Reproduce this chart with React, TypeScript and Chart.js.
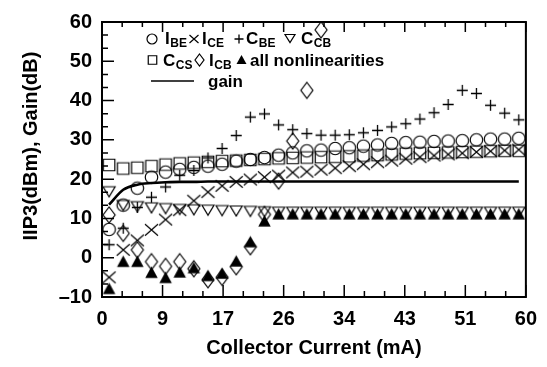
import React, { useEffect, useRef } from 'react';
import { Chart, registerables } from 'chart.js';

Chart.register(...registerables);

// Collector current (mA) at which every series was sampled
const current = [1, 3, 5, 7, 9, 11, 13, 15, 17, 19, 21, 23, 25, 27, 29, 31, 33, 35, 37, 39, 41, 43, 45, 47, 49, 51, 53, 55, 57, 59];

// IIP3 (dBm) for each nonlinearity
const iBE = [7.2, 13.4, 17.7, 20.5, 21.8, 22.5, 23.0, 23.3, 23.8, 24.6, 25.0, 25.5, 26.1, 26.7, 27.2, 27.4, 27.8, 28.0, 28.4, 28.7, 29.1, 29.3, 29.4, 29.6, 29.7, 29.8, 30.0, 30.2, 30.2, 30.4];
const iCE = [-5.0, 2.0, 4.4, 7.1, 9.7, 12.1, 14.5, 16.7, 18.3, 19.3, 19.9, 20.5, 20.9, 21.7, 21.9, 22.4, 22.8, 23.3, 23.8, 24.3, 24.7, 25.2, 25.6, 26.0, 26.3, 26.6, 26.9, 27.1, 27.3, 27.5];
const cBE = [3.3, 7.5, 12.8, 15.4, 18.0, 21.0, 22.2, 25.4, 27.8, 31.1, 35.8, 36.6, 33.8, 32.6, 31.6, 31.2, 31.2, 31.3, 31.8, 32.4, 33.3, 34.1, 35.3, 36.9, 39.0, 42.6, 41.8, 38.8, 36.8, 35.1];
const cCB = [16.8, 13.3, 13.0, 12.7, 12.5, 12.3, 12.2, 12.1, 12.0, 11.9, 11.8, 11.7, 11.6, 11.6, 11.6, 11.6, 11.6, 11.6, 11.6, 11.6, 11.6, 11.6, 11.6, 11.6, 11.6, 11.6, 11.6, 11.6, 11.6, 11.6];
const cCS = [23.6, 22.7, 22.9, 23.3, 23.7, 24.0, 24.2, 24.4, 24.6, 24.7, 24.9, 25.1, 25.3, 25.4, 25.5, 25.6, 25.7, 25.8, 26.0, 26.1, 26.3, 26.5, 26.6, 26.7, 26.8, 26.9, 27.0, 27.1, 27.2, 27.2];
const iCB = [10.9, 6.2, 2.0, -1.0, -2.2, -1.0, -2.8, -5.6, -5.0, -2.3, 2.8, 11.0, 19.5, 29.7, 42.6, 58.0];
const allNonlin = [-7.8, -0.9, -0.9, -3.7, -5.0, -3.6, -2.5, -4.5, -3.9, -0.8, 4.1, 9.4, 11.2, 11.2, 11.2, 11.2, 11.2, 11.2, 11.2, 11.2, 11.2, 11.2, 11.2, 11.2, 11.2, 11.2, 11.2, 11.2, 11.2, 11.2];
// Gain (dB)
const gain = [13.5, 17.3, 18.6, 19.0, 19.2, 19.3, 19.3, 19.4, 19.4, 19.4, 19.4, 19.4, 19.4, 19.4, 19.4, 19.4, 19.4, 19.4, 19.4, 19.4, 19.4, 19.4, 19.4, 19.4, 19.4, 19.4, 19.4, 19.4, 19.4, 19.4];

const xTickLabels = ['0', '9', '17', '26', '34', '43', '51', '60'];
const yTickValues = [-10, 0, 10, 20, 30, 40, 50, 60];
const yTickLabels = ['\u201310', '0', '10', '20', '30', '40', '50', '60'];

const FONT = '"Liberation Sans", Arial, Helvetica, sans-serif';

type Kind = 'circle' | 'cross' | 'plus' | 'tridown' | 'square' | 'diamond' | 'triup';

function drawMarker(ctx: CanvasRenderingContext2D, kind: Kind, cx: number, cy: number, w: number, h: number, lw: number) {
  ctx.save();
  ctx.strokeStyle = '#000';
  ctx.fillStyle = '#000';
  ctx.lineWidth = lw;
  const hw = w / 2, hh = h / 2;
  ctx.beginPath();
  switch (kind) {
    case 'circle':
      ctx.ellipse(cx, cy, hw, hh, 0, 0, Math.PI * 2);
      ctx.stroke();
      break;
    case 'cross':
      ctx.moveTo(cx - hw, cy - hh); ctx.lineTo(cx + hw, cy + hh);
      ctx.moveTo(cx + hw, cy - hh); ctx.lineTo(cx - hw, cy + hh);
      ctx.stroke();
      break;
    case 'plus':
      ctx.moveTo(cx - hw, cy); ctx.lineTo(cx + hw, cy);
      ctx.moveTo(cx, cy - hh); ctx.lineTo(cx, cy + hh);
      ctx.stroke();
      break;
    case 'tridown':
      ctx.moveTo(cx - hw, cy - hh); ctx.lineTo(cx + hw, cy - hh); ctx.lineTo(cx, cy + hh); ctx.closePath();
      ctx.stroke();
      break;
    case 'square':
      ctx.rect(cx - hw, cy - hh, w, h);
      ctx.stroke();
      break;
    case 'diamond':
      ctx.moveTo(cx, cy - hh); ctx.lineTo(cx + hw, cy); ctx.lineTo(cx, cy + hh); ctx.lineTo(cx - hw, cy); ctx.closePath();
      ctx.stroke();
      break;
    case 'triup':
      ctx.moveTo(cx, cy - hh); ctx.lineTo(cx + hw, cy + hh); ctx.lineTo(cx - hw, cy + hh); ctx.closePath();
      ctx.fill();
      break;
  }
  ctx.restore();
}

function markerCanvas(kind: Kind, w: number, h: number, lw: number): HTMLCanvasElement {
  const pad = 2;
  const c = document.createElement('canvas');
  c.width = Math.ceil(w + pad * 2);
  c.height = Math.ceil(h + pad * 2);
  const ctx = c.getContext('2d')!;
  drawMarker(ctx, kind, c.width / 2, c.height / 2, w, h, lw);
  return c;
}

function pts(values: number[]) {
  return values.map((v, i) => ({ x: current[i], y: v }));
}

const decorPlugin = {
  id: 'decor',
  afterDraw(chart: any) {
    const { ctx, chartArea: a, scales } = chart;
    const xs = scales.x, ys = scales.y;
    ctx.save();
    ctx.strokeStyle = '#000';
    ctx.lineWidth = 1.5;
    const n = (xTickLabels.length - 1) * 3;
    ctx.beginPath();
    for (let i = 0; i <= n; i++) {
      const px = xs.getPixelForValue((i * 60) / n);
      const major = i % 3 === 0;
      ctx.moveTo(px, a.bottom); ctx.lineTo(px, a.bottom - (major ? 12 : 6));
      ctx.moveTo(px, a.top); ctx.lineTo(px, a.top + (major ? 10 : 5));
    }
    const m = (yTickValues.length - 1) * 3;
    for (let i = 0; i <= m; i++) {
      const py = ys.getPixelForValue(-10 + (i * 70) / m);
      const major = i % 3 === 0;
      ctx.moveTo(a.left, py); ctx.lineTo(a.left + (major ? 12 : 6), py);
    }
    ctx.stroke();
    ctx.lineWidth = 2;
    ctx.strokeRect(a.left, a.top, a.right - a.left, a.bottom - a.top);

    // y-axis title
    ctx.save();
    ctx.translate(31, 146);
    ctx.rotate(-Math.PI / 2);
    ctx.fillStyle = '#000';
    ctx.font = `bold 20px ${FONT}`;
    ctx.textAlign = 'center';
    ctx.textBaseline = 'middle';
    ctx.fillText('IIP3(dBm), Gain(dB)', 0, 0);
    ctx.restore();

    // legend
    ctx.fillStyle = '#000';
    ctx.textBaseline = 'alphabetic';
    ctx.textAlign = 'left';
    const sub = (x: number, y: number, main: string, s: string) => {
      ctx.font = `bold 17px ${FONT}`;
      ctx.fillText(main, x, y);
      const w = ctx.measureText(main).width;
      ctx.font = `bold 12px ${FONT}`;
      ctx.fillText(s, x + w + 0.5, y + 3);
    };
    const r1 = 44, r2 = 65.5, r3 = 86.5;
    drawMarker(ctx, 'circle', 152, 39, 10, 10, 1.2);
    sub(165, r1, 'I', 'BE');
    drawMarker(ctx, 'cross', 194, 39, 9, 8, 1.2);
    sub(202, r1, 'I', 'CE');
    drawMarker(ctx, 'plus', 239, 39, 9, 9, 1.3);
    sub(246, r1, 'C', 'BE');
    drawMarker(ctx, 'tridown', 290, 38.5, 10, 8, 1.2);
    sub(301, r1, 'C', 'CB');
    drawMarker(ctx, 'square', 152.5, 60, 8.5, 8.5, 1.2);
    sub(163, r2, 'C', 'CS');
    drawMarker(ctx, 'diamond', 199.5, 60, 9, 12, 1.2);
    sub(209, r2, 'I', 'CB');
    drawMarker(ctx, 'triup', 241.5, 59.5, 10, 9, 1);
    ctx.font = `bold 17px ${FONT}`;
    ctx.fillText('all nonlinearities', 250, r2);
    ctx.lineWidth = 1.5;
    ctx.beginPath();
    ctx.moveTo(151, 81); ctx.lineTo(194, 81);
    ctx.stroke();
    ctx.fillText('gain', 208, r3);
    ctx.restore();
  },
};

export default function App() {
  const ref = useRef<HTMLCanvasElement>(null);
  useEffect(() => {
    if (!ref.current) return;
    const mk = {
      circle: markerCanvas('circle', 12.5, 12.5, 1.2),
      cross: markerCanvas('cross', 13, 11.5, 1.2),
      plus: markerCanvas('plus', 11, 11, 1.3),
      tridown: markerCanvas('tridown', 12, 10, 1.2),
      square: markerCanvas('square', 11.5, 11.5, 1.2),
      diamond: markerCanvas('diamond', 12, 16, 1.2),
      triup: markerCanvas('triup', 12.5, 11.5, 1),
    };
    const scatter = (label: string, data: number[], style: HTMLCanvasElement) => ({
      label,
      data: pts(data),
      showLine: false,
      pointStyle: style,
      pointRadius: 6,
      borderColor: '#000',
      backgroundColor: '#000',
    });
    const tickFont = { family: FONT, size: 20, weight: 'bold' as const };
    const chart = new Chart(ref.current, {
      type: 'line',
      data: {
        datasets: [
          scatter('all nonlinearities', allNonlin, mk.triup),
          scatter('I_CB', iCB, mk.diamond),
          scatter('C_CB', cCB, mk.tridown),
          scatter('C_CS', cCS, mk.square),
          scatter('I_CE', iCE, mk.cross),
          scatter('C_BE', cBE, mk.plus),
          scatter('I_BE', iBE, mk.circle),
          {
            label: 'gain',
            data: pts(gain),
            borderColor: '#000',
            borderWidth: 2.6,
            pointRadius: 0,
            cubicInterpolationMode: 'monotone',
            fill: false,
          },
        ],
      },
      options: {
        animation: false,
        responsive: false,
        devicePixelRatio: 1,
        layout: { padding: { top: 17, right: 20, left: 0, bottom: 0 } },
        plugins: { legend: { display: false }, tooltip: { enabled: false } },
        scales: {
          x: {
            type: 'linear',
            min: 0,
            max: 60,
            grid: { display: false, drawTicks: false },
            border: { display: false },
            afterBuildTicks: (s: any) => {
              s.ticks = xTickLabels.map((_, i) => ({ value: (i * 60) / (xTickLabels.length - 1) }));
            },
            afterFit: (s: any) => { s.height = 70; },
            ticks: {
              autoSkip: false,
              maxRotation: 0,
              padding: 10,
              color: '#000',
              font: tickFont,
              callback: (_v: any, i: number) => xTickLabels[i],
            },
            title: {
              display: true,
              text: 'Collector Current (mA)',
              color: '#000',
              font: tickFont,
              padding: { top: 0, bottom: 7 },
            },
          },
          y: {
            type: 'linear',
            min: -10,
            max: 60,
            grid: { display: false, drawTicks: false },
            border: { display: false },
            afterBuildTicks: (s: any) => {
              s.ticks = yTickValues.map((v) => ({ value: v }));
            },
            afterFit: (s: any) => { s.width = 102; },
            ticks: {
              autoSkip: false,
              padding: 10,
              color: '#000',
              font: tickFont,
              callback: (_v: any, i: number) => yTickLabels[i],
            },
          },
        },
      },
      plugins: [decorPlugin],
    } as any);
    return () => chart.destroy();
  }, []);
  return (
    <div style={{ position: 'fixed', left: 0, top: 0, width: 547, height: 367, background: '#fff' }}>
      <canvas ref={ref} width={547} height={367} style={{ display: 'block' }} />
    </div>
  );
}
